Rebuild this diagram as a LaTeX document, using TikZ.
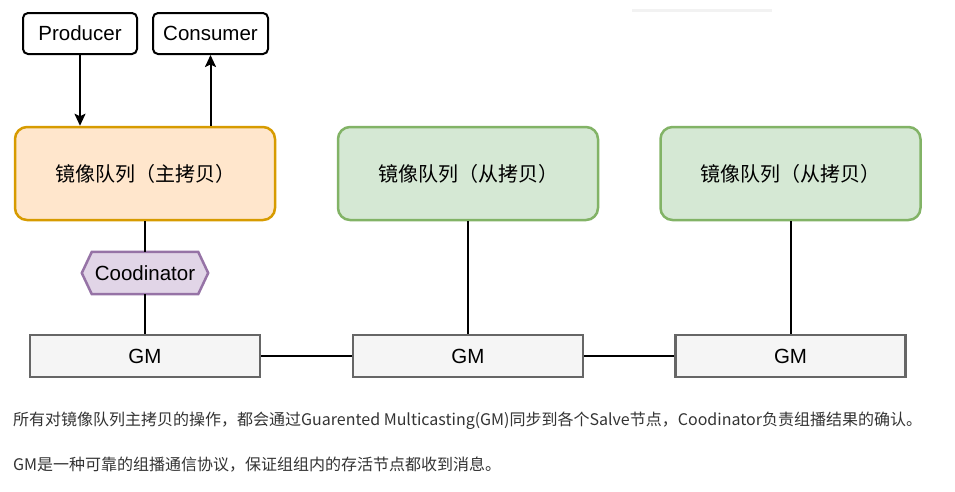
\documentclass[tikz,border=0pt]{standalone}
\usepackage{fontspec}
\setmainfont{Liberation Sans}
\newfontfamily\cjk{Noto Sans CJK SC}
\usetikzlibrary{arrows.meta,backgrounds}
\definecolor{orfill}{HTML}{FFE6CC}
\definecolor{orline}{HTML}{D79B00}
\definecolor{grfill}{HTML}{D5E8D4}
\definecolor{grline}{HTML}{82B366}
\definecolor{pufill}{HTML}{E1D5E7}
\definecolor{puline}{HTML}{9673A6}
\definecolor{gmfill}{HTML}{F5F5F5}
\definecolor{gmline}{HTML}{666666}
\definecolor{notecol}{HTML}{333333}
\begin{document}
\begin{tikzpicture}[x=1pt,y=-1pt,
  actor/.style={draw=black, line width=2pt, rounded corners=5pt, fill=white,
    minimum height=41pt, inner sep=0pt, font=\fontsize{20.5}{24}\selectfont},
  queuebox/.style={line width=2.5pt, rounded corners=12pt, minimum width=260pt,
    minimum height=93pt, inner sep=0pt, font=\cjk\fontsize{20}{24}\selectfont},
  master/.style={queuebox, draw=orline, fill=orfill},
  slave/.style={queuebox, draw=grline, fill=grfill},
  gmbox/.style={draw=gmline, fill=gmfill, line width=2.5pt, minimum width=230pt,
    minimum height=42pt, inner sep=0pt, font=\fontsize{20.5}{24}\selectfont},
  hexnode/.style={minimum width=126pt, minimum height=42pt, inner sep=0pt,
    font=\fontsize{20.5}{24}\selectfont},
  hexline/.style={draw=puline, fill=pufill, line width=2.5pt},
  link/.style={draw=black, line width=2pt},
  arr/.style={link, -{Stealth[length=12pt,width=11pt,inset=2.5pt]}},
  note/.style={anchor=west, inner sep=0pt, text=notecol, font=\cjk\fontsize{16}{20}\selectfont}
]
\useasboundingbox (0,0) rectangle (955,491);

\fill[black!5] (632,9) rectangle (772,11.5);

\node[actor, minimum width=114pt] (producer) at (80,33.5) {Producer};
\node[actor, minimum width=115pt] (consumer) at (210.5,33.5) {Consumer};

\node[master] (master) at (145,173.5) {镜像队列（主拷贝）};
\node[slave] (slave1) at (468,173.5) {镜像队列（从拷贝）};
\node[slave] (slave2) at (790.5,173.5) {镜像队列（从拷贝）};

\node[hexnode] (coord) at (145,273) {Coodinator};
\begin{scope}[on background layer]
  \path[hexline] (coord.west) -- ([xshift=10pt]coord.north west) -- ([xshift=-10pt]coord.north east)
    -- (coord.east) -- ([xshift=-10pt]coord.south east) -- ([xshift=10pt]coord.south west) -- cycle;
\end{scope}

\node[gmbox] (gm1) at (145,356) {GM};
\node[gmbox] (gm2) at (468,356) {GM};
\node[gmbox] (gm3) at (790.5,356) {GM};

\draw[arr] (producer.south) -- (producer.south |- master.north);
\draw[arr] (master.north -| consumer.south) -- (consumer.south);

\draw[link] (master.south) -- (coord.north);
\draw[link] (coord.south) -- (gm1.north);
\draw[link] (slave1.south) -- (gm2.north);
\draw[link] (slave2.south) -- (gm3.north);
\draw[link] (gm1.east) -- (gm2.west);
\draw[link] (gm2.east) -- (gm3.west);

\node[note] (note1) at (13,421) {所有对镜像队列主拷贝的操作，都会通过Guarented Multicasting(GM)同步到各个Salve节点，Coodinator负责组播结果的确认。};
\node[note] (note2) at (13,465) {GM是一种可靠的组播通信协议，保证组组内的存活节点都收到消息。};
\end{tikzpicture}
\end{document}
